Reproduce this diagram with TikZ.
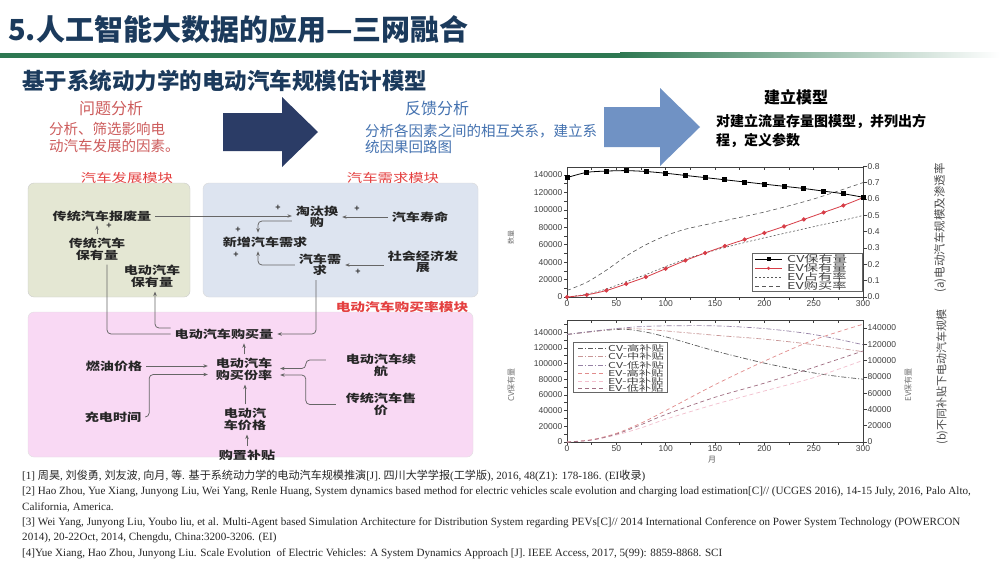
\documentclass[tikz,border=0pt]{standalone}
\usepackage{fontspec}
\setmainfont{Liberation Serif}
\newfontfamily\cjk{Noto Sans CJK SC}
\newfontfamily\cjkw[FakeStretch=1.28]{Noto Sans CJK SC}
\newfontfamily\cjkl[FakeStretch=1.5]{Noto Sans CJK SC}
\newfontfamily\chf{Liberation Sans}
\newcommand\zhtxt[1]{{\cjk #1}}
\usetikzlibrary{arrows.meta,plotmarks}
\definecolor{navy}{RGB}{27,58,92}
\definecolor{ttlgreen}{RGB}{46,120,82}
\definecolor{probred}{RGB}{205,92,92}
\definecolor{fbblue}{RGB}{68,114,176}
\definecolor{darrow}{RGB}{43,60,102}
\definecolor{larrow}{RGB}{112,146,196}
\definecolor{gboxc}{RGB}{228,231,211}
\definecolor{bboxc}{RGB}{221,228,240}
\definecolor{pboxc}{RGB}{249,217,244}
\definecolor{modred}{RGB}{228,64,64}
\definecolor{evred}{RGB}{215,60,70}
\definecolor{cvm}{RGB}{200,150,150}
\definecolor{cvl}{RGB}{150,130,165}
\definecolor{evh}{RGB}{225,140,140}
\definecolor{evm}{RGB}{242,190,205}
\definecolor{evl}{RGB}{160,110,130}
\tikzset{
  dn/.style={font=\cjkw\bfseries\fontsize{11}{11.5}\selectfont, text=black!85, align=center, inner sep=2pt, outer sep=2pt},
  con/.style={draw=black!60, line width=0.75pt, rounded corners=4pt},
  arr/.style={con, -{Stealth[length=4.5pt,width=3.5pt]}},
  pl/.style={font=\chf\bfseries\fontsize{9}{9}\selectfont, text=black!80, inner sep=0pt},
  ml/.style={font=\cjkw\fontsize{12}{12}\selectfont, text=modred, inner sep=0pt},
  ax/.style={draw=black!75, line width=0.6pt},
  tk/.style={font=\chf\fontsize{8.5}{9}\selectfont, text=black!75, inner sep=0.5pt},
  lg/.style={font=\cjkl\fontsize{9.5}{10}\selectfont, text=black!75, anchor=west, inner sep=0pt},
  lgb/.style={font=\cjkl\fontsize{8.2}{9}\selectfont, text=black!75, anchor=west, inner sep=0pt},
  rf/.style={font=\fontsize{11.1}{12}\selectfont, text=black!85, anchor=west, inner sep=0pt},
}
\begin{document}
\begin{tikzpicture}[x=1pt,y=-1pt]
\useasboundingbox (0,0) rectangle (1000,563);
\fill[white] (0,0) rectangle (1000,563);

% ---------- title ----------
\node[anchor=west, font=\cjk\bfseries\fontsize{29}{30}\selectfont, text=navy, inner sep=0pt] (title) at (8,29) {5.人工智能大数据的应用—三网融合};
\fill[ttlgreen] (0,52.5) rectangle (620,57.5);
\shade[left color=ttlgreen, right color=white] (620,52.5) rectangle (1000,57.5);
\node[anchor=west, font=\cjk\bfseries\fontsize{22.5}{24}\selectfont, text=navy, inner sep=0pt] (subt) at (22,81) {基于系统动力学的电动汽车规模估计模型};

% ---------- three steps ----------
\node[font=\cjk\fontsize{16}{16}\selectfont, text=probred, inner sep=0pt] (p1h) at (111,108) {问题分析};
\node[anchor=west, font=\cjk\fontsize{14.5}{16}\selectfont, text=probred, inner sep=0pt] (p1a) at (49,129) {分析、筛选影响电};
\node[anchor=west, font=\cjk\fontsize{14.5}{16}\selectfont, text=probred, inner sep=0pt] (p1b) at (49,146) {动汽车发展的因素。};
\fill[darrow] (223,113) -- (282,113) -- (282,97) -- (318,132) -- (282,167) -- (282,151) -- (223,151) -- cycle;

\node[font=\cjk\fontsize{16}{16}\selectfont, text=fbblue, inner sep=0pt] (p2h) at (437,108) {反馈分析};
\node[anchor=west, font=\cjk\fontsize{14.5}{16}\selectfont, text=fbblue, inner sep=0pt] (p2a) at (365,131) {分析各因素之间的相互关系，建立系};
\node[anchor=west, font=\cjk\fontsize{14.5}{16}\selectfont, text=fbblue, inner sep=0pt] (p2b) at (365,147) {统因果回路图};
\fill[larrow] (604,107) -- (660,107) -- (660,88) -- (700,127) -- (660,166) -- (660,147) -- (604,147) -- cycle;

\node[font=\cjk\bfseries\fontsize{16}{16}\selectfont, inner sep=0pt] (p3h) at (796,97) {建立模型};
\node[anchor=west, font=\cjk\bfseries\fontsize{14}{16}\selectfont, inner sep=0pt] (p3a) at (716,121) {对建立流量存量图模型，并列出方};
\node[anchor=west, font=\cjk\bfseries\fontsize{14}{16}\selectfont, inner sep=0pt] (p3b) at (716,140) {程，定义参数};

% ---------- module boxes ----------
\draw[draw=black!20, fill=gboxc, rounded corners=6pt] (28,183) rectangle (190,297);
\draw[draw=black!15, fill=bboxc, rounded corners=6pt] (203,183) rectangle (478,297);
\draw[draw=black!12, fill=pboxc, rounded corners=6pt] (28,312) rectangle (473,457);
\node[ml] (m1) at (127,178) {汽车发展模块};
\node[ml] (m2) at (393,178) {汽车需求模块};
\node[ml, font=\cjkw\bfseries\fontsize{11.5}{12}\selectfont] (m3) at (402,307) {电动汽车购买率模块};

% ---------- causal nodes ----------
\node[dn] (bfq) at (102,216) {传统汽车报废量};
\node[dn] (cvhold) at (97,249.5) {传统汽车\\保有量};
\node[dn] (evhold) at (152,276.5) {电动汽车\\保有量};
\node[dn] (tthg) at (317,217) {淘汰换\\购};
\node[dn] (life) at (420,217) {汽车寿命};
\node[dn] (newd) at (265,242) {新增汽车需求};
\node[dn] (dem) at (320,265) {汽车需\\求};
\node[dn] (soc) at (423,262) {社会经济发\\展};
\node[dn] (buy) at (224,334) {电动汽车购买量};
\node[dn, inner xsep=6pt] (rate) at (244,369.5) {电动汽车\\购买份率};
\node[dn] (fuel) at (114,366) {燃油价格};
\node[dn] (chg) at (113,417) {充电时间};
\node[dn] (range) at (381,365.5) {电动汽车续\\航};
\node[dn] (cvp) at (381,404.5) {传统汽车售\\价};
\node[dn] (evp) at (245,419.5) {电动汽\\车价格};
\node[dn] (subs) at (247,455) {购置补贴};

% ---------- connectors ----------
\draw[arr] (bfq.east) -- (bfq.east -| tthg.west);
\draw[arr] (life.west) -- (tthg.east);
\draw[arr] (cvhold.north) -- (cvhold.north |- bfq.south);
\draw[arr] ([yshift=-4pt]tthg.west) -| ([xshift=-7pt]newd.north);
\draw[arr] (dem.west) -| ([xshift=-7pt]newd.south);
\draw[arr] (soc.west |- dem.east) -- (dem.east);
\draw[arr] ([xshift=-4pt]dem.south) |- (buy.east);
\draw[con] (buy.west) -| ([xshift=10pt]cvhold.south);
\draw[arr] ([yshift=6pt]buy.west) -| ([xshift=3pt]evhold.south);
\draw[arr] (rate.north) -- (rate.north |- buy.south);
\draw[arr] (fuel.east) -- (fuel.east -| rate.west);
\draw[arr] (chg.east) -- ++(4,0) |- ([yshift=-5pt]rate.west);
\draw[arr] ([xshift=-16pt,yshift=5.5pt]range.west) -- ++(-20,0) |- ([yshift=1pt]rate.east);
\draw[arr] ([xshift=-6pt]cvp.west) -- ++(-30,0) |- ([yshift=-5.5pt]rate.east);
\draw[arr] (evp.north) -- (evp.north |- rate.south);
\draw[arr] (subs.north) -- (subs.north |- evp.south);

% plus signs
\node[pl] (s1) at (278,208) {+};
\node[pl] (s2) at (357,209) {+};
\node[pl] (s3) at (109,226) {+};
\node[pl] (s4) at (238,230) {+};
\node[pl] (s5) at (236,255) {+};
\node[pl] (s6) at (358,272) {+};

% ---------- chart (a) ----------
\begin{scope}[shift={(567,297)}, x=0.98667pt, y=0.8715pt]
  \draw[ax] (0,0) rectangle (300,149.2);
  \foreach \m in {0,25,...,300} {
    \draw[ax] (\m,0) -- ++(0pt,-3pt);
    \draw[ax] (\m,149.2) -- ++(0pt,-3pt);
  }
  \foreach \m in {0,50,...,300} \node[tk, below=3pt] at (\m,0) {\m};
  \foreach \v in {0,10,...,140} \draw[ax] (0,\v) -- ++(-3.5pt,0pt);
  \foreach \v/\t in {0/0,20/20000,40/40000,60/60000,80/80000,100/100000,120/120000,140/140000}
    \node[tk, left=4pt] at (0,\v) {\t};
  \foreach \r in {0,1,...,8} {
    \draw[ax] (300,\r*18.75) -- ++(3.5pt,0pt);
    \node[tk, right=4pt] at (300,\r*18.75) {0.\r};
  }
  \draw[black!65, line width=0.6pt, dash pattern=on 4pt off 3pt] plot[smooth] coordinates {(0,7.5) (20,16.9) (40,30.9) (60,46.9) (80,60) (100,70.3) (120,77.8) (150,85.3) (200,97.5) (250,112.5) (300,131.25)};
  \draw[black!65, line width=0.6pt, dash pattern=on 2pt off 2pt] plot[smooth] coordinates {(0,0) (20,3.22) (40,9.25) (60,17.58) (80,25.82) (100,34.92) (120,43.39) (140,50.5) (160,56.83) (180,62.5) (200,67.89) (220,73.02) (240,78.16) (260,83.24) (280,88.09) (300,93.54)};
  \draw[evred, line width=0.8pt] plot[smooth, mark=*, mark size=1.7pt, mark options={fill=evred}] coordinates {(0,0) (20,2.5) (40,7.5) (60,15) (80,23) (100,32.5) (120,42) (140,50.5) (160,58.5) (180,66) (200,73.5) (220,81) (240,89) (260,97) (280,105) (300,114)};
  \draw[black, line width=0.8pt] plot[smooth, mark=square*, mark size=2pt, mark options={fill=black}] coordinates {(0,137) (20,143) (40,144.5) (60,145) (80,144) (100,142) (120,139.5) (140,137) (160,134.5) (180,132) (200,129.5) (220,127) (240,124.5) (260,121.5) (280,118.5) (300,114.5)};
\end{scope}
\draw[black!60, fill=white, line width=0.5pt] (752,253) rectangle (862,291);
\draw[black, line width=0.8pt] (755,259.3) -- (782,259.3);
\fill[black] (766.5,257.3) rectangle (770.5,261.3);
\node[lg] (la1) at (787,259.3) {CV保有量};
\draw[evred, line width=0.8pt] (755,268.3) -- (782,268.3);
\fill[evred] (768.5,268.3) circle (1.7pt);
\node[lg] (la2) at (787,268.3) {EV保有量};
\draw[black!65, line width=0.6pt, dash pattern=on 2pt off 2pt] (755,277.3) -- (782,277.3);
\node[lg] (la3) at (787,277.3) {EV占有率};
\draw[black!65, line width=0.6pt, dash pattern=on 4pt off 3pt] (755,286) -- (782,286);
\node[lg] (la4) at (787,286) {EV购买率};
\node[rotate=90, font=\cjk\fontsize{7}{7}\selectfont, text=black!55] (ya) at (511,237) {数量};
\node[rotate=90, font=\cjk\fontsize{11.5}{12}\selectfont, text=black!70] (ta) at (940,228) {(a)电动汽车规模及渗透率};

% ---------- chart (b) ----------
\begin{scope}[shift={(567,442)}, x=0.98667pt, y=0.785pt]
  \draw[ax] (0,0) rectangle (300,155.4);
  \foreach \m in {0,25,...,300} {
    \draw[ax] (\m,0) -- ++(0pt,-3pt);
    \draw[ax] (\m,155.4) -- ++(0pt,-3pt);
  }
  \foreach \m in {0,50,...,300} \node[tk, below=3pt] at (\m,0) {\m};
  \foreach \v in {0,10,...,150} \draw[ax] (0,\v) -- ++(-3.5pt,0pt);
  \foreach \v/\t in {0/0,20/20000,40/40000,60/60000,80/80000,100/100000,120/120000,140/140000}
    \node[tk, left=4pt] at (0,\v) {\t};
  \foreach \v/\t in {0/0,20/20000,40/40000,60/60000,80/80000,100/100000,120/120000,140/140000} {
    \draw[ax] (300,\v*1.037) -- ++(3.5pt,0pt);
    \node[tk, right=4pt] at (300,\v*1.037) {\t};
  }
  \draw[black!65, line width=0.7pt, dash pattern=on 5pt off 2pt on 1pt off 2pt] plot[smooth] coordinates {(0,137) (20,140) (40,142.5) (60,143.5) (80,140) (100,134) (125,125) (150,116) (175,108) (200,100.5) (225,94) (250,88) (275,83.5) (300,80)};
  \draw[cvm, line width=0.7pt, dash pattern=on 5pt off 2pt on 1pt off 2pt] plot[smooth] coordinates {(0,137) (25,140.5) (50,144) (75,144) (100,141.5) (150,136) (200,131) (250,124) (300,115)};
  \draw[cvl, line width=0.7pt, dash pattern=on 5pt off 2pt on 1pt off 2pt] plot[smooth] coordinates {(0,137) (25,141) (50,144.5) (75,147) (100,148) (150,148) (200,144.5) (250,137) (300,124)};
  \draw[evh, line width=0.7pt, dash pattern=on 4pt off 3pt] plot[smooth] coordinates {(0,0) (25,3) (50,11) (75,24) (100,40) (150,73) (200,103) (250,130) (300,150)};
  \draw[evm, line width=0.7pt, dash pattern=on 4pt off 3pt] plot[smooth] coordinates {(0,0) (25,2.5) (50,9) (75,18) (100,29) (150,48) (200,65) (250,82) (300,104)};
  \draw[evl, line width=0.7pt, dash pattern=on 4pt off 3pt] plot[smooth] coordinates {(0,0) (25,2.5) (50,10) (75,22) (100,35) (150,57) (200,75) (250,95) (300,116)};
\end{scope}
\draw[black!60, fill=white, line width=0.5pt] (573,342) rectangle (667,392.5);
\draw[black!65, line width=0.7pt, dash pattern=on 5pt off 2pt on 1pt off 2pt] (578,348.3) -- (606,348.3);
\node[lgb] (lb1) at (608,348.3) {CV-高补贴};
\draw[cvm, line width=0.7pt, dash pattern=on 5pt off 2pt on 1pt off 2pt] (578,356.7) -- (606,356.7);
\node[lgb] (lb2) at (608,356.7) {CV-中补贴};
\draw[cvl, line width=0.7pt, dash pattern=on 5pt off 2pt on 1pt off 2pt] (578,365) -- (606,365);
\node[lgb] (lb3) at (608,365) {CV-低补贴};
\draw[evh, line width=0.7pt, dash pattern=on 4pt off 3pt] (578,373.3) -- (606,373.3);
\node[lgb] (lb4) at (608,373.3) {EV-高补贴};
\draw[evm, line width=0.7pt, dash pattern=on 4pt off 3pt] (578,381) -- (606,381);
\node[lgb] (lb5) at (608,381) {EV-中补贴};
\draw[evl, line width=0.7pt, dash pattern=on 4pt off 3pt] (578,388.3) -- (606,388.3);
\node[lgb] (lb6) at (608,388.3) {EV-低补贴};
\node[font=\cjk\fontsize{8}{8}\selectfont, text=black!65] (mon) at (712,460) {月};
\node[rotate=90, font=\cjk\fontsize{8}{8}\selectfont, text=black!55] (yb1) at (511,385) {CV保有量};
\node[rotate=90, font=\cjk\fontsize{8}{8}\selectfont, text=black!55] (yb2) at (908,385) {EV保有量};
\node[rotate=90, font=\cjk\fontsize{11}{12}\selectfont, text=black!70] (tb) at (942,377) {(b)不同补贴下电动汽车规模};

% ---------- references ----------
\node[rf] (r1) at (22,476) {[1] \zhtxt{周昊}, \zhtxt{刘俊勇}, \zhtxt{刘友波}, \zhtxt{向月}, \zhtxt{等}. \zhtxt{基于系统动力学的电动汽车规模推演}[J]. \zhtxt{四川大学学报}(\zhtxt{工学版}), 2016, 48(Z1): 178-186. (EI\zhtxt{收录})};
\node[rf] (r2) at (22,491.5) {[2] Hao Zhou, Yue Xiang, Junyong Liu, Wei Yang, Renle Huang, System dynamics based method for electric vehicles scale evolution and charging load estimation[C]// (UCGES 2016), 14-15 July, 2016, Palo Alto,};
\node[rf] (r3) at (22,507) {California, America.};
\node[rf] (r4) at (22,522.5) {[3] Wei Yang, Junyong Liu, Youbo liu, et al. Multi-Agent based Simulation Architecture for Distribution System regarding PEVs[C]// 2014 International Conference on Power System Technology (POWERCON};
\node[rf] (r5) at (22,538) {2014), 20-22Oct, 2014, Chengdu, China:3200-3206. (EI)};
\node[rf] (r6) at (22,553.5) {[4]Yue Xiang, Hao Zhou, Junyong Liu. Scale Evolution\ \ of Electric Vehicles: A System Dynamics Approach [J]. IEEE Access, 2017, 5(99): 8859-8868. SCI};
\end{tikzpicture}
\end{document}
